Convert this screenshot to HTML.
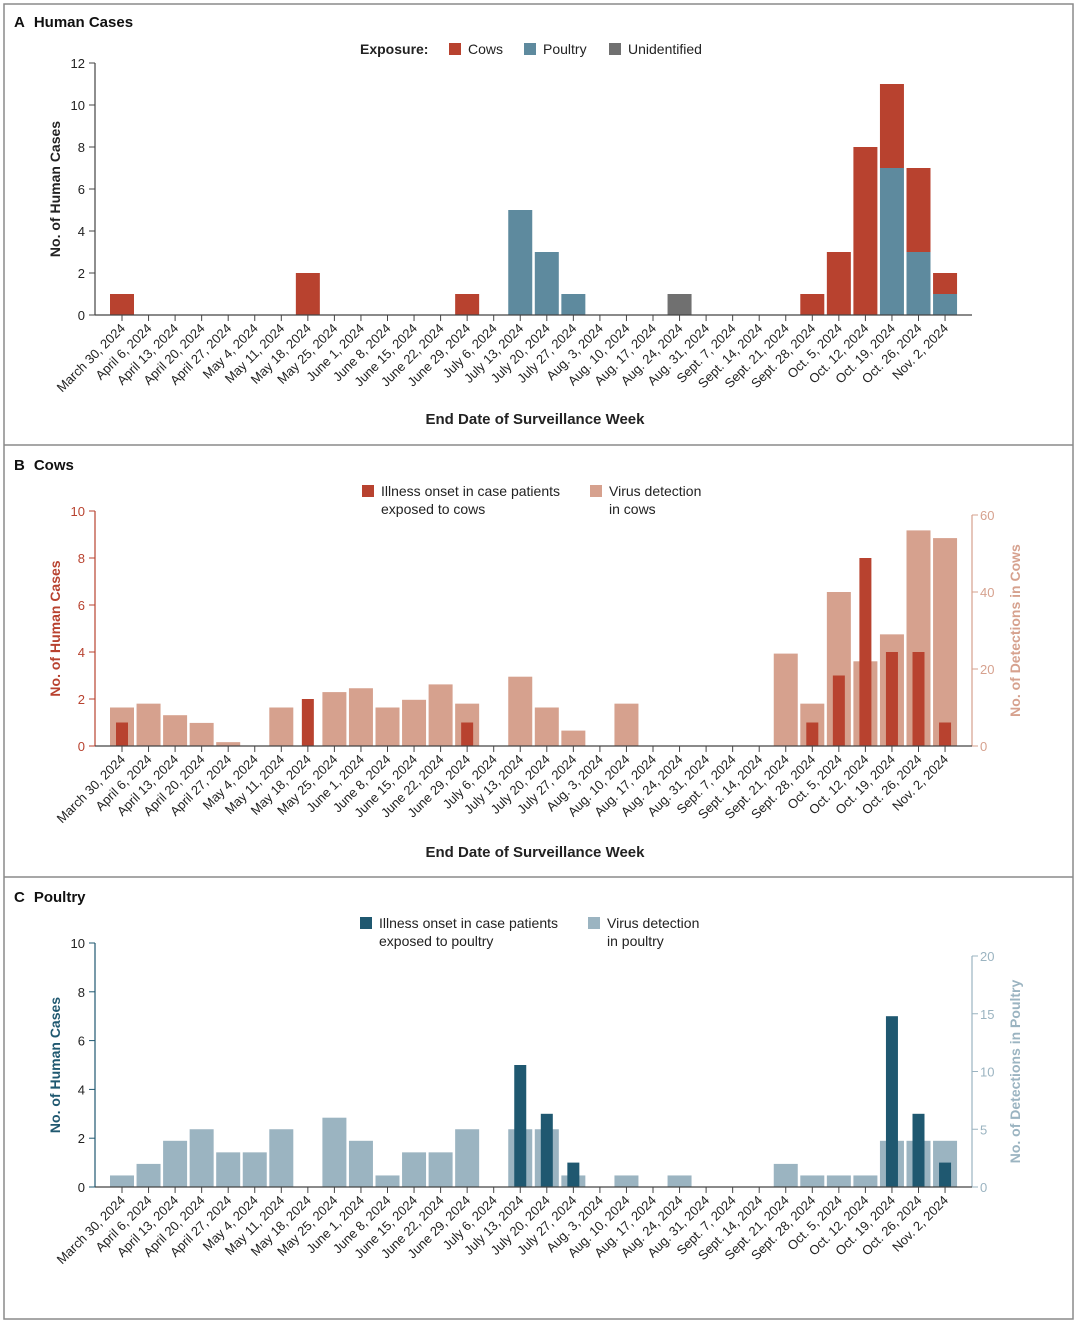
<!DOCTYPE html>
<html><head><meta charset="utf-8"><style>
html,body{margin:0;padding:0;background:#fff;}
svg{display:block;font-family:"Liberation Sans",sans-serif;}
</style></head><body>
<svg id="c" width="1080" height="1323" viewBox="0 0 1080 1323"></svg>
<script>
const categories=["March 30, 2024","April 6, 2024","April 13, 2024","April 20, 2024","April 27, 2024","May 4, 2024","May 11, 2024","May 18, 2024","May 25, 2024","June 1, 2024","June 8, 2024","June 15, 2024","June 22, 2024","June 29, 2024","July 6, 2024","July 13, 2024","July 20, 2024","July 27, 2024","Aug. 3, 2024","Aug. 10, 2024","Aug. 17, 2024","Aug. 24, 2024","Aug. 31, 2024","Sept. 7, 2024","Sept. 14, 2024","Sept. 21, 2024","Sept. 28, 2024","Oct. 5, 2024","Oct. 12, 2024","Oct. 19, 2024","Oct. 26, 2024","Nov. 2, 2024"];
const humanCows=[1,0,0,0,0,0,0,2,0,0,0,0,0,1,0,0,0,0,0,0,0,0,0,0,0,0,1,3,8,4,4,1];
const humanPoultry=[0,0,0,0,0,0,0,0,0,0,0,0,0,0,0,5,3,1,0,0,0,0,0,0,0,0,0,0,0,7,3,1];
const humanUnidentified=[0,0,0,0,0,0,0,0,0,0,0,0,0,0,0,0,0,0,0,0,0,1,0,0,0,0,0,0,0,0,0,0];
const cowDetections=[10,11,8,6,1,0,10,0,14,15,10,12,16,11,0,18,10,4,0,11,0,0,0,0,0,24,11,40,22,29,56,54];
const poultryDetections=[1,2,4,5,3,3,5,0,6,4,1,3,3,5,0,5,5,1,0,1,0,1,0,0,0,2,1,1,1,4,4,4];
const ticksA=[0,2,4,6,8,10,12];
const ticksLeft=[0,2,4,6,8,10];
const ticksCowsRight=[0,20,40,60];
const ticksPoultryRight=[0,5,10,15,20];

const NS="http://www.w3.org/2000/svg";
const svg=document.getElementById('c');
function mk(tag,attrs,parent,text){const e=document.createElementNS(NS,tag);for(const k in attrs)e.setAttribute(k,attrs[k]);if(text!==undefined)e.textContent=text;(parent||svg).appendChild(e);return e;}
const X0=122,STEP=26.55;
function xc(i){return X0+i*STEP;}

// frame
let f=mk('rect',{x:4,y:4,width:1069,height:1315,fill:'none',stroke:'#8a8a8a','stroke-width':1.5});

[445,877].forEach((y,k)=>{let l=mk('line',{x1:4,x2:1073,y1:y,y2:y,stroke:'#8a8a8a','stroke-width':1.5});
});

function panel(o){
  const g=mk('g',{});
  
  let t=mk('text',{x:14,y:o.titleY,'font-size':15,'font-weight':'bold',fill:'#111'},g);
  
  mk('tspan',{},t,o.letter);mk('tspan',{dx:9},t,o.title);
  const yL=v=>o.y0-(v/o.lmax)*(o.y0-o.ytop);
  // left axis
  let ax=mk('line',{x1:95,x2:95,y1:yL(o.lmax),y2:o.y0,stroke:o.lcol,'stroke-width':1.2},g);
  
  o.lticks.forEach(v=>{mk('line',{x1:89,x2:95,y1:yL(v),y2:yL(v),stroke:o.lcol},g);
    let tl=mk('text',{x:85,y:yL(v)+5,'text-anchor':'end','font-size':13,fill:o.ltxt},g,String(v));
    });
  let yt=mk('text',{transform:`translate(60,${(yL(o.lmax)+o.y0)/2}) rotate(-90)`,'text-anchor':'middle','font-size':14,'font-weight':'bold',fill:o.ltitleCol},g,'No. of Human Cases');
  
  // right axis
  let yR=null;
  if(o.rticks){
    const rmax=o.rticks[o.rticks.length-1];
    yR=v=>o.y0-(v/rmax)*(o.y0-o.rtop);
    let ra=mk('line',{x1:972,x2:972,y1:yR(rmax),y2:o.y0,stroke:o.rcol,'stroke-width':1.2},g);
    
    o.rticks.forEach(v=>{mk('line',{x1:972,x2:978,y1:yR(v),y2:yR(v),stroke:o.rcol},g);
      let tl=mk('text',{x:980,y:yR(v)+5,'font-size':13,fill:o.rcol},g,String(v));
      });
    let rt=mk('text',{transform:`translate(1020,${(yR(rmax)+o.y0)/2}) rotate(-90)`,'text-anchor':'middle','font-size':14,'font-weight':'bold',fill:o.rcol},g,o.rtitle);
    
  }
  o.draw(g,yL,yR);
  // x axis
  let xa=mk('line',{x1:95,x2:972,y1:o.y0,y2:o.y0,stroke:'#444','stroke-width':1.2},g);
  
  categories.forEach((c,i)=>{const x=xc(i);
    mk('line',{x1:x,x2:x,y1:o.y0,y2:o.y0+6,stroke:'#444'},g);
    let tl=mk('text',{x:x+4,y:o.y0+14,'text-anchor':'end','font-size':13,fill:'#222',transform:`rotate(-45 ${x+4} ${o.y0+14})`},g,c);
    });
  if(o.xtitleY){let xt=mk('text',{x:535,y:o.xtitleY,'text-anchor':'middle','font-size':15,'font-weight':'bold',fill:'#222'},g,'End Date of Surveillance Week');
    }
  return g;
}
function bar(g,i,w,y1,y2,fill,name){if(y2-y1<=0.01)return;const r=mk('rect',{x:xc(i)-w/2,y:y1,width:w,height:y2-y1,fill:fill,stroke:'#fff','stroke-width':0},g);
  return r;}
function legendItem(g,x,y,col,lines,name){const it=mk('g',{},g);
  mk('rect',{x:x,y:y-11,width:12,height:12,fill:col},it);
  lines.forEach((l,k)=>mk('text',{x:x+19,y:y+k*18,'font-size':14,fill:'#222'},it,l));}

const RED='#b8422f',POUL='#5e8a9e',UNID='#707070',COWD='#d6a18e',POULD='#9bb4c1',POULH='#1f5870';

// Panel A
panel({name:'panel-a-human-cases',letter:'A',title:'Human Cases',titleY:27,y0:315,ytop:63,lmax:12,lticks:ticksA,lcol:'#444',ltxt:'#222',ltitleCol:'#222',xtitleY:424,
 draw:(g,yL)=>{categories.forEach((c,i)=>{let b=0;
   bar(g,i,24,yL(humanPoultry[i]),yL(0),POUL,'bar-poultry');b+=humanPoultry[i];
   bar(g,i,24,yL(b+humanCows[i]),yL(b),RED,'bar-cows');b+=humanCows[i];
   bar(g,i,24,yL(b+humanUnidentified[i]),yL(b),UNID,'bar-unidentified');});
   const lg=mk('g',{},g);
   mk('text',{x:360,y:54,'font-size':14,'font-weight':'bold',fill:'#222'},lg,'Exposure:');
   legendItem(lg,449,54,RED,['Cows'],'legend-entry-cows');
   legendItem(lg,524,54,POUL,['Poultry'],'legend-entry-poultry');
   legendItem(lg,609,54,UNID,['Unidentified'],'legend-entry-unidentified');}});

// Panel B
panel({name:'panel-b-cows',letter:'B',title:'Cows',titleY:470,y0:746,ytop:511,lmax:10,lticks:ticksLeft,lcol:RED,ltxt:RED,ltitleCol:RED,rticks:ticksCowsRight,rtop:515,rcol:COWD,rtitle:'No. of Detections in Cows',xtitleY:857,
 draw:(g,yL,yR)=>{categories.forEach((c,i)=>{bar(g,i,24,yR(cowDetections[i]),yR(0),COWD,'bar-cow-detections');
   bar(g,i,12,yL(humanCows[i]),yL(0),RED,'bar-human-cows');});
   const lg=mk('g',{},g);
   legendItem(lg,362,496,RED,['Illness onset in case patients','exposed to cows'],'legend-entry-illness-cows');
   legendItem(lg,590,496,COWD,['Virus detection','in cows'],'legend-entry-detection-cows');}});

// Panel C
panel({name:'panel-c-poultry',letter:'C',title:'Poultry',titleY:902,y0:1187,ytop:943,lmax:10,lticks:ticksLeft,lcol:POULH,ltxt:'#222',ltitleCol:POULH,rticks:ticksPoultryRight,rtop:956,rcol:POULD,rtitle:'No. of Detections in Poultry',
 draw:(g,yL,yR)=>{categories.forEach((c,i)=>{bar(g,i,24,yR(poultryDetections[i]),yR(0),POULD,'bar-poultry-detections');
   bar(g,i,12,yL(humanPoultry[i]),yL(0),POULH,'bar-human-poultry');});
   const lg=mk('g',{},g);
   legendItem(lg,360,928,POULH,['Illness onset in case patients','exposed to poultry'],'legend-entry-illness-poultry');
   legendItem(lg,588,928,POULD,['Virus detection','in poultry'],'legend-entry-detection-poultry');}});
</script>
</body></html>
